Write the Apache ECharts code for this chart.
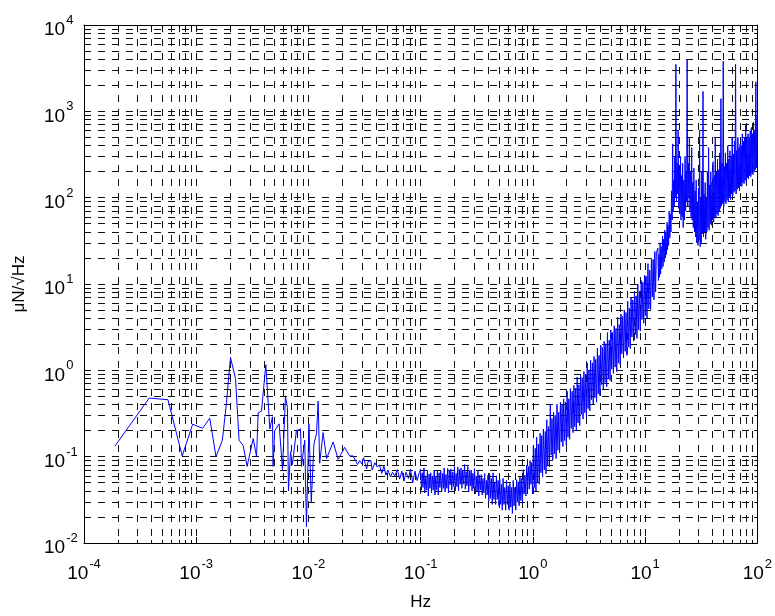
<!DOCTYPE html>
<html>
<head>
<meta charset="utf-8">
<script src="https://cdn.jsdelivr.net/npm/echarts@6/dist/echarts.min.js"></script>
<style>
html,body{margin:0;padding:0;background:#fff;}
#chart{width:775px;height:616px;}
</style>
</head>
<body>
<div id="chart"></div>
<script>
// ---- data (frequency in Hz, amplitude in µN/√Hz) ----
// sparse low-frequency part
const lowFreq = [1.89e-4, 3.81e-4, 5.6e-4, 7.5e-4, 9.3e-4, 1.14e-3, 1.32e-3, 1.5e-3, 1.71e-3, 1.86e-3,
  2.02e-3, 2.24e-3, 2.41e-3, 2.62e-3, 2.84e-3, 3.22e-3, 3.45e-3, 3.56e-3, 3.82e-3, 4.17e-3,
  4.53e-3, 4.78e-3, 4.84e-3, 5.0e-3, 5.48e-3, 5.87e-3, 6.24e-3, 6.5e-3, 6.64e-3, 6.92e-3,
  7.2e-3, 7.81e-3, 8.5e-3, 8.67e-3, 9.27e-3, 9.6e-3, 1.01e-2, 1.06e-2, 1.12e-2, 1.18e-2,
  1.22e-2, 1.26e-2, 1.35e-2, 1.45e-2, 1.66e-2, 1.84e-2, 2.1e-2, 2.33e-2, 2.5e-2, 2.74e-2, 2.86e-2];
const lowVal = [0.133, 0.477, 0.457, 0.102, 0.238, 0.213, 0.279, 0.1, 0.155, 0.42,
  1.41, 0.8, 0.155, 0.135, 0.077, 0.162, 0.1, 0.32, 0.34, 1.16,
  0.21, 0.29, 0.077, 0.2, 0.24, 0.071, 0.5, 0.37, 0.04, 0.114,
  0.081, 0.2, 0.21, 0.077, 0.155, 0.0155, 0.24, 0.03, 0.141, 0.184,
  0.44, 0.084, 0.19, 0.095, 0.148, 0.093, 0.128, 0.102, 0.102, 0.081, 0.09];

// 0.03 - 0.1 Hz
const midFreq = [0.030, 0.031, 0.033, 0.034, 0.036, 0.037, 0.039, 0.041, 0.043, 0.045,
  0.047, 0.049, 0.051, 0.054, 0.056, 0.059, 0.062, 0.065, 0.068, 0.071,
  0.074, 0.078, 0.081, 0.085, 0.089, 0.093, 0.097];
const midVal = [0.082, 0.097, 0.072, 0.088, 0.090, 0.070, 0.085, 0.076, 0.080, 0.064,
  0.078, 0.061, 0.070, 0.058, 0.066, 0.060, 0.071, 0.055, 0.068, 0.052,
  0.066, 0.056, 0.072, 0.050, 0.068, 0.053, 0.065];

// 0.1 - 12.6 Hz: upper excursions of the noisy band
const bandFreq = [0.100, 0.1035, 0.107, 0.111, 0.115, 0.119, 0.123, 0.127, 0.132, 0.136,
  0.141, 0.146, 0.151, 0.157, 0.162, 0.168, 0.174, 0.180, 0.186, 0.193,
  0.200, 0.207, 0.214, 0.221, 0.229, 0.237, 0.246, 0.254, 0.263, 0.273,
  0.282, 0.292, 0.302, 0.313, 0.324, 0.335, 0.347, 0.359, 0.372, 0.385,
  0.398, 0.412, 0.427, 0.442, 0.457, 0.473, 0.490, 0.507, 0.525, 0.543,
  0.562, 0.582, 0.603, 0.624, 0.646, 0.668, 0.692, 0.716, 0.741, 0.767,
  0.794, 0.822, 0.851, 0.881, 0.912, 0.944, 0.977, 1.01, 1.05, 1.08,
  1.12, 1.16, 1.20, 1.24, 1.29, 1.33, 1.38, 1.43, 1.48, 1.53,
  1.58, 1.64, 1.70, 1.76, 1.82, 1.88, 1.95, 2.02, 2.09, 2.16,
  2.24, 2.32, 2.40, 2.48, 2.57, 2.66, 2.75, 2.85, 2.95, 3.05,
  3.16, 3.27, 3.39, 3.51, 3.63, 3.76, 3.89, 4.03, 4.17, 4.32,
  4.47, 4.62, 4.79, 4.95, 5.13, 5.31, 5.50, 5.69, 5.89, 6.10,
  6.31, 6.53, 6.76, 7.00, 7.24, 7.50, 7.76, 8.04, 8.32, 8.61,
  8.91, 9.23, 9.55, 9.89, 10.2, 10.6, 11.0, 11.4, 11.8, 12.2,
  12.6];
const bandHigh = [0.072, 0.065, 0.074, 0.060, 0.069, 0.063, 0.065, 0.060, 0.070, 0.059,
  0.069, 0.065, 0.068, 0.064, 0.074, 0.062, 0.073, 0.069, 0.072, 0.066,
  0.077, 0.064, 0.076, 0.071, 0.074, 0.070, 0.081, 0.067, 0.077, 0.069,
  0.070, 0.064, 0.073, 0.059, 0.068, 0.061, 0.062, 0.056, 0.064, 0.053,
  0.061, 0.064, 0.056, 0.065, 0.051, 0.060, 0.053, 0.055, 0.048, 0.056,
  0.044, 0.053, 0.046, 0.049, 0.044, 0.053, 0.044, 0.054, 0.051, 0.058,
  0.056, 0.071, 0.061, 0.080, 0.077, 0.090, 0.086, 0.132, 0.125, 0.169,
  0.140, 0.186, 0.175, 0.209, 0.196, 0.268, 0.223, 0.40, 0.277, 0.325,
  0.301, 0.404, 0.328, 0.426, 0.396, 0.466, 0.430, 0.571, 0.468, 0.614,
  0.571, 0.670, 0.624, 0.836, 0.679, 0.883, 0.823, 0.967, 0.907, 1.22,
  1.00, 1.31, 1.22, 1.45, 1.34, 1.81, 1.49, 1.96, 1.84, 2.17,
  2.03, 2.74, 2.23, 2.94, 2.76, 3.28, 3.06, 4.12, 3.38, 4.48,
  4.2, 4.98, 4.67, 6.32, 5.23, 6.91, 6.55, 7.81, 7.30, 10.0,
  8.27, 11.0, 10.5, 12.6, 12.4, 17.2, 14.5, 19.8, 19.3, 23.8,
  23.0];

// 0.1 - 12.6 Hz: lower excursions of the noisy band
const bandMidFreq = [0.1017, 0.105, 0.109, 0.113, 0.117, 0.121, 0.125, 0.1295, 0.134, 0.1385,
  0.1435, 0.1485, 0.154, 0.1595, 0.165, 0.171, 0.177, 0.183, 0.1895, 0.1965,
  0.2035, 0.2105, 0.2175, 0.225, 0.233, 0.2415, 0.25, 0.2585, 0.268, 0.2775,
  0.287, 0.297, 0.3075, 0.3185, 0.3295, 0.341, 0.353, 0.3655, 0.3785, 0.3915,
  0.405, 0.4195, 0.4345, 0.4495, 0.465, 0.4815, 0.4985, 0.516, 0.534, 0.5525,
  0.572, 0.5925, 0.6135, 0.635, 0.657, 0.68, 0.704, 0.7285, 0.754, 0.7805,
  0.808, 0.8365, 0.866, 0.8965, 0.928, 0.9605, 0.9935, 1.03, 1.065, 1.10,
  1.14, 1.18, 1.22, 1.265, 1.31, 1.355, 1.405, 1.455, 1.505, 1.555,
  1.61, 1.67, 1.73, 1.79, 1.85, 1.915, 1.985, 2.055, 2.125, 2.20,
  2.28, 2.36, 2.44, 2.525, 2.615, 2.705, 2.80, 2.90, 3.00, 3.105,
  3.215, 3.33, 3.45, 3.57, 3.695, 3.825, 3.96, 4.10, 4.245, 4.395,
  4.545, 4.705, 4.87, 5.04, 5.22, 5.405, 5.595, 5.79, 5.995, 6.205,
  6.42, 6.645, 6.88, 7.12, 7.37, 7.63, 7.90, 8.18, 8.465, 8.76,
  9.07, 9.39, 9.72, 10.05, 10.4, 10.8, 11.2, 11.6, 12.0, 12.4];
const bandLow = [0.041, 0.044, 0.038, 0.041, 0.035, 0.043, 0.038, 0.041, 0.036, 0.041,
  0.036, 0.044, 0.039, 0.043, 0.039, 0.043, 0.038, 0.047, 0.041, 0.045,
  0.040, 0.045, 0.040, 0.048, 0.043, 0.048, 0.042, 0.046, 0.039, 0.046,
  0.040, 0.043, 0.037, 0.040, 0.035, 0.041, 0.036, 0.038, 0.033, 0.036,
  0.031, 0.033, 0.028, 0.032, 0.028, 0.032, 0.027, 0.028, 0.024, 0.028,
  0.024, 0.028, 0.024, 0.026, 0.022, 0.027, 0.024, 0.030, 0.027, 0.031,
  0.029, 0.037, 0.035, 0.044, 0.042, 0.048, 0.037, 0.044, 0.040, 0.051,
  0.048, 0.065, 0.058, 0.070, 0.063, 0.080, 0.076, 0.104, 0.092, 0.108,
  0.095, 0.119, 0.111, 0.149, 0.131, 0.154, 0.136, 0.168, 0.159, 0.213,
  0.190, 0.222, 0.198, 0.246, 0.230, 0.308, 0.272, 0.323, 0.289, 0.360,
  0.339, 0.457, 0.408, 0.481, 0.428, 0.535, 0.507, 0.683, 0.610, 0.723,
  0.645, 0.805, 0.762, 1.03, 0.92, 1.09, 0.97, 1.22, 1.16, 1.56,
  1.39, 1.66, 1.49, 1.88, 1.78, 2.43, 2.18, 2.60, 2.34, 2.96,
  2.85, 3.88, 3.52, 4.30, 3.98, 5.15, 5.05, 7.06, 6.56, 8.07];

// 13 - 100 Hz: upper excursions (with resonance spikes)
const highFreq = [13.0, 13.3, 13.6, 13.9, 14.3, 14.6, 15.0, 15.3, 15.7, 16.0,
  16.4, 16.8, 17.2, 17.6, 18.0, 18.4, 18.8, 19.3, 19.7, 20.2,
  20.7, 21.1, 21.6, 22.1, 22.7, 23.2, 23.7, 24.3, 24.8, 25.4,
  26.0, 26.6, 27.2, 27.9, 28.5, 29.2, 29.9, 30.6, 31.3, 32.0,
  32.8, 33.5, 34.3, 35.1, 35.9, 36.8, 37.6, 38.5, 39.4, 40.3,
  41.3, 42.2, 43.2, 44.2, 45.3, 46.3, 47.4, 48.5, 49.7, 50.8,
  52.0, 53.2, 54.5, 55.7, 57.0, 58.4, 59.7, 61.1, 62.6, 64.0,
  65.5, 67.1, 68.6, 70.2, 71.9, 73.5, 75.3, 77.0, 78.8, 80.7,
  82.6, 84.5, 86.4, 88.5, 90.5, 92.6, 94.8, 97.0, 99.3];
const highUpper = [26, 22, 30, 27, 36, 33, 42, 40, 52, 48,
  70, 64, 120, 420, 160, 300, 3500, 250, 600, 220,
  300, 180, 250, 160, 300, 200, 4000, 250, 500, 200,
  380, 150, 220, 120, 160, 90, 130, 600, 100, 200,
  1700, 110, 150, 100, 200, 380, 140, 200, 150, 260,
  180, 500, 200, 280, 210, 330, 1400, 250, 3800, 230,
  330, 250, 400, 280, 350, 300, 500, 320, 450, 3500,
  350, 500, 380, 420, 400, 550, 450, 500, 700, 480,
  550, 500, 600, 650, 550, 750, 600, 2200, 900];

// 13 - 100 Hz: lower excursions
const highMidFreq = [13.15, 13.45, 13.75, 14.1, 14.45, 14.8, 15.15, 15.5, 15.85, 16.2,
  16.6, 17.0, 17.4, 17.8, 18.2, 18.6, 19.05, 19.5, 19.95, 20.45,
  20.9, 21.35, 21.85, 22.4, 22.95, 23.45, 24.0, 24.55, 25.1, 25.7,
  26.3, 26.9, 27.55, 28.2, 28.85, 29.55, 30.25, 30.95, 31.65, 32.4,
  33.15, 33.9, 34.7, 35.5, 36.35, 37.2, 38.05, 38.95, 39.85, 40.8,
  41.75, 42.7, 43.7, 44.75, 45.8, 46.85, 47.95, 49.1, 50.25, 51.4,
  52.6, 53.85, 55.1, 56.35, 57.7, 59.05, 60.4, 61.85, 63.3, 64.75,
  66.3, 67.85, 69.4, 71.05, 72.7, 74.4, 76.15, 77.9, 79.75, 81.65,
  83.55, 85.45, 87.45, 89.5, 91.55, 93.7, 95.9, 98.15];
const highLower = [11, 12, 13, 15, 16, 18, 20, 22, 25, 28,
  34, 40, 55, 70, 80, 100, 90, 110, 75, 65,
  55, 60, 45, 55, 70, 90, 80, 100, 70, 60,
  55, 45, 40, 35, 30, 28, 32, 27, 30, 38,
  35, 40, 33, 40, 45, 42, 50, 48, 55, 52,
  60, 58, 65, 62, 70, 75, 80, 85, 78, 90,
  85, 95, 90, 100, 95, 110, 105, 115, 120, 110,
  125, 130, 120, 140, 135, 150, 145, 160, 150, 170,
  165, 180, 175, 190, 185, 200, 210, 220];

const xTickExponents = [-4, -3, -2, -1, 0, 1, 2];
const yTickExponents = [-2, -1, 0, 1, 2, 3, 4];
const xLabel = 'Hz';
const yLabel = 'μN/√Hz';

// ---- build one spectrum ordered by frequency ----
function pairs(fs, vs) { return fs.map((f, i) => [f, vs[i]]); }
const seriesData = [].concat(
  pairs(lowFreq, lowVal), pairs(midFreq, midVal),
  pairs(bandFreq, bandHigh), pairs(bandMidFreq, bandLow),
  pairs(highFreq, highUpper), pairs(highMidFreq, highLower)
).sort((a, b) => a[0] - b[0]);

const FONT = 'Liberation Sans, Arial, sans-serif';
const gridStyle = {color: '#111', width: 1, type: [7, 7]};
const richLabel = {
  b: {fontSize: 19, fontFamily: FONT, color: '#000', lineHeight: 32, verticalAlign: 'middle'},
  s: {fontSize: 13, fontFamily: FONT, color: '#000', lineHeight: 13, verticalAlign: 'top', padding: [0, 0, 0, 1]}
};
function powLabel(v) {
  const e = Math.round(Math.log10(v));
  return '{b|10}{s|' + e + '}';
}

const xMin = Math.pow(10, xTickExponents[0]);
const xMax = Math.pow(10, xTickExponents[xTickExponents.length - 1]);
const yMin = Math.pow(10, yTickExponents[0]);
const yMax = Math.pow(10, yTickExponents[yTickExponents.length - 1]);

const tickCommon = {
  axisLine: {show: true, lineStyle: {color: '#000', width: 1}},
  axisTick: {show: true, inside: true, length: 6, lineStyle: {color: '#000'}},
  minorTick: {show: true, splitNumber: 9, length: 3, lineStyle: {color: '#000'}}
};

const chart = echarts.init(document.getElementById('chart'), null, {renderer: 'canvas'});
chart.setOption({
  animation: false,
  backgroundColor: '#fff',
  grid: {left: 84, top: 25, width: 674, height: 530, containLabel: false},
  xAxis: [Object.assign({
    type: 'log', logBase: 10, min: xMin, max: xMax,
    name: xLabel, nameLocation: 'middle', nameGap: 51,
    nameTextStyle: {fontSize: 17, fontFamily: FONT, color: '#000'},
    splitLine: {show: true, lineStyle: gridStyle},
    minorSplitLine: {show: true, lineStyle: gridStyle},
    axisLabel: {margin: 15, formatter: powLabel, rich: richLabel}
  }, tickCommon), Object.assign({
    type: 'log', logBase: 10, min: xMin, max: xMax, position: 'top',
    splitLine: {show: false}, axisLabel: {show: false}
  }, tickCommon)],
  yAxis: [Object.assign({
    type: 'log', logBase: 10, min: yMin, max: yMax,
    name: yLabel, nameLocation: 'middle', nameGap: 56, nameRotate: 90,
    nameTextStyle: {fontSize: 17, fontFamily: FONT, color: '#000'},
    splitLine: {show: true, lineStyle: gridStyle},
    minorSplitLine: {show: true, lineStyle: gridStyle},
    axisLabel: {margin: 40, align: 'left', padding: [10, 0, 0, 0], formatter: powLabel, rich: richLabel}
  }, tickCommon), Object.assign({
    type: 'log', logBase: 10, min: yMin, max: yMax, position: 'right',
    splitLine: {show: false}, axisLabel: {show: false}
  }, tickCommon)],
  series: [{
    type: 'line', xAxisIndex: 0, yAxisIndex: 0,
    data: seriesData, showSymbol: false, symbol: 'none', sampling: 'none',
    lineStyle: {color: '#0000ff', width: 1}, z: 5
  }]
});
</script>
</body>
</html>
